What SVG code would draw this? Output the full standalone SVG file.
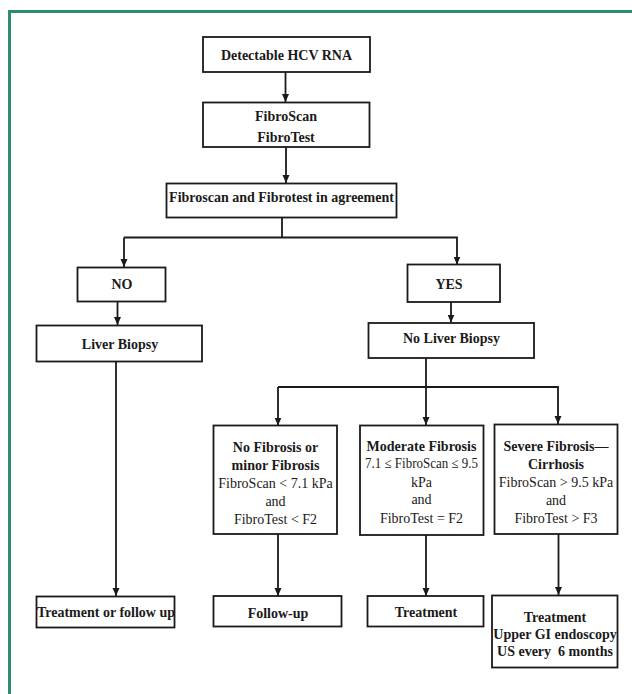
<svg xmlns="http://www.w3.org/2000/svg" width="632" height="694" viewBox="0 0 632 694">
<defs>
<marker id="ah" markerUnits="userSpaceOnUse" markerWidth="8" markerHeight="8" refX="8" refY="4" orient="auto">
<path d="M0,0.5 L8,4 L0,7.5 z" fill="#1a1a1a"/>
</marker>
</defs>
<style>
rect.b{fill:#fff;stroke:#1a1a1a;stroke-width:1.8}
text{font-family:"Liberation Serif","Times New Roman",serif;font-size:14px;fill:#1a1a1a;text-anchor:middle}
text.h{font-weight:bold}
text.pre{white-space:pre}
.c path{fill:none;stroke:#1a1a1a;stroke-width:1.8}
.c path.a{marker-end:url(#ah)}
</style>
<rect width="632" height="694" fill="#fff"/>
<path d="M9.5,694 V11.5 H632" fill="none" stroke="#2b8c72" stroke-width="3"/>

<g class="c">
<path class="a" d="M285.5,72 V102"/>
<path class="a" d="M286,147 V183"/>
<path d="M282,217 V237.5"/>
<path class="a" d="M124,237.5 V267"/>
<path class="a" d="M124,237.5 H457 V264.5"/>
<path class="a" d="M117.5,301 V325"/>
<path class="a" d="M116,362 V596"/>
<path class="a" d="M451,302 V322.5"/>
<path class="a" d="M426,358 V425"/>
<path class="a" d="M278,387 V425.5"/>
<path class="a" d="M278,387 H558 V424"/>
<path class="a" d="M278,534 V596"/>
<path class="a" d="M426,535 V596"/>
<path class="a" d="M558.5,534 V595"/>
</g>

<g id="n-detectable">
<rect class="b" x="203" y="37" width="167" height="35"/>
<text class="h" x="286.5" y="59.5">Detectable HCV RNA</text>
</g>
<g id="n-fibroscan">
<rect class="b" x="203" y="102.5" width="166.5" height="44.5"/>
<text class="h" x="286" y="121">FibroScan</text>
<text class="h" x="286" y="141.5">FibroTest</text>
</g>
<g id="n-agreement">
<rect class="b" x="166.5" y="183.5" width="230" height="34"/>
<text class="h" x="281.5" y="202">Fibroscan and Fibrotest in agreement</text>
</g>
<g id="n-no">
<rect class="b" x="77.5" y="267.5" width="88" height="34"/>
<text class="h" x="122" y="288.5">NO</text>
</g>
<g id="n-yes">
<rect class="b" x="407.5" y="264.5" width="92.5" height="37.5"/>
<text class="h" x="449" y="288.5">YES</text>
</g>
<g id="n-liver-biopsy">
<rect class="b" x="36.5" y="325.5" width="165.5" height="36"/>
<text class="h" x="120" y="349">Liver Biopsy</text>
</g>
<g id="n-no-liver-biopsy">
<rect class="b" x="368.5" y="323" width="165.5" height="35"/>
<text class="h" x="451.5" y="343">No Liver Biopsy</text>
</g>
<g id="n-no-fibrosis">
<rect class="b" x="213.5" y="425.5" width="123.5" height="108.5"/>
<text class="h" x="275.5" y="451.5">No Fibrosis or</text>
<text class="h" x="275.5" y="470">minor Fibrosis</text>
<text x="275.5" y="488">FibroScan &lt; 7.1 kPa</text>
<text x="275.5" y="506">and</text>
<text x="275.5" y="524">FibroTest &lt; F2</text>
</g>
<g id="n-moderate">
<rect class="b" x="360" y="425.5" width="123.5" height="109.5"/>
<text class="h" x="421.5" y="450.5">Moderate Fibrosis</text>
<text x="421.5" y="468" textLength="113" lengthAdjust="spacingAndGlyphs">7.1 ≤ FibroScan ≤ 9.5</text>
<text x="421.5" y="486.5">kPa</text>
<text x="421.5" y="504">and</text>
<text x="421.5" y="522.5">FibroTest = F2</text>
</g>
<g id="n-severe">
<rect class="b" x="494.5" y="424.5" width="123" height="109.5"/>
<text class="h" x="556" y="450.5">Severe Fibrosis—</text>
<text class="h" x="556" y="469">Cirrhosis</text>
<text x="556" y="486.5">FibroScan &gt; 9.5 kPa</text>
<text x="556" y="505">and</text>
<text x="556" y="522.5">FibroTest &gt; F3</text>
</g>
<g id="n-treat-follow">
<rect class="b" x="36.5" y="596.5" width="138" height="31"/>
<text class="h" x="106" y="617">Treatment or follow up</text>
</g>
<g id="n-follow-up">
<rect class="b" x="213.5" y="596" width="128" height="30.5"/>
<text class="h" x="278" y="618">Follow-up</text>
</g>
<g id="n-treatment">
<rect class="b" x="367.5" y="596" width="116" height="30.5"/>
<text class="h" x="426" y="617">Treatment</text>
</g>
<g id="n-treatment-severe">
<rect class="b" x="492" y="595.5" width="125.5" height="72"/>
<text class="h" x="555" y="621.5">Treatment</text>
<text class="h" x="555" y="639">Upper GI endoscopy</text>
<text class="h pre" x="555" y="655.5">US every  6 months</text>
</g>
</svg>
